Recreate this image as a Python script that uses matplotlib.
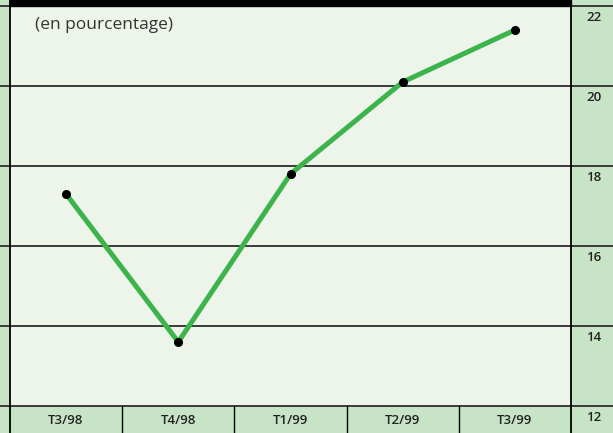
import matplotlib.pyplot as plt
from matplotlib.transforms import blended_transform_factory, offset_copy

# --- Data ---
quarters = ["T3/98", "T4/98", "T1/99", "T2/99", "T3/99"]
values = [17.3, 13.6, 17.8, 20.1, 21.4]
y_ticks = [12, 14, 16, 18, 20, 22]

# --- Colours ---
strip = "#c8e4c6"
panel = "#edf5ea"
green = "#3cb44b"

W, H = 613, 433
fig = plt.figure(figsize=(W / 100, H / 100), dpi=100, facecolor=strip)
plt.rcParams["font.family"] = ["Open Sans", "DejaVu Sans"]

left, right, top, bottom = 10, 571, 6, 406
ax = fig.add_axes([left / W, (H - bottom) / H, (right - left) / W, (bottom - top) / H])
ax.set_facecolor(panel)
ax.set_xlim(-0.5, len(quarters) - 0.5)
ax.set_ylim(12, 22)
ax.set_xticks([])
ax.set_yticks([])
for s in ax.spines.values():
    s.set_visible(False)

pw = right - left
ph = bottom - top

# gridlines across the whole width
for v in y_ticks:
    ax.axhline(v, xmin=-left / pw, xmax=(W - left) / pw, color="#3a3a3a",
               lw=1.4, clip_on=False, zorder=1)

# vertical borders (full height)
for xf in (0, 1):
    ax.axvline(-0.5 + xf * len(quarters), ymin=-(H - bottom) / ph, ymax=1 + top / ph,
               color="black", lw=1.3, clip_on=False, zorder=2)

# separators in the bottom strip
for i in range(1, len(quarters)):
    ax.axvline(i - 0.5, ymin=-(H - bottom) / ph, ymax=0, color="black",
               lw=1.0, clip_on=False)

# top black bar
fig.patches.append(plt.Rectangle((left / W, (H - top) / H), pw / W, top / H,
                                 transform=fig.transFigure, color="black"))

# data line
x = range(len(quarters))
ax.plot(x, values, color=green, lw=3.6, zorder=3, solid_capstyle="butt")
ax.plot(x, values, "o", color="black", ms=5.5, zorder=4)

# category labels
tb = blended_transform_factory(ax.transData, ax.transAxes)
tb = offset_copy(tb, fig=fig, y=-15, units="dots")
for i, q in enumerate(quarters):
    ax.text(i, 0, q, transform=tb, ha="center", va="center", fontsize=9.5,
            fontweight="semibold", color="#222222")

# right-hand value labels
tr = blended_transform_factory(fig.transFigure, ax.transData)
tr = offset_copy(tr, fig=fig, y=-11, units="dots")
for v in y_ticks:
    ax.text(594 / W, v, str(v), transform=tr, ha="center", va="center",
            fontsize=9.5, fontweight="semibold", color="#222222")

ax.text(0.045, 0.952, "(en pourcentage)", transform=ax.transAxes, ha="left",
        va="center", fontsize=12.5, color="#333333")

fig.savefig("out.png", dpi=100, facecolor=strip)
